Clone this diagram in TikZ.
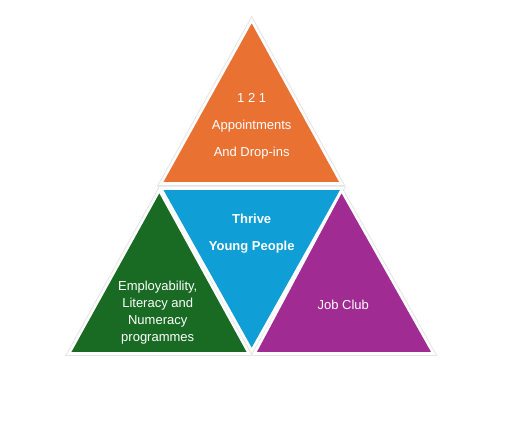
\documentclass[tikz,border=0pt]{standalone}
\usepackage{fontspec}
\setmainfont{Liberation Sans}
\definecolor{torange}{HTML}{E97132}
\definecolor{tblue}{HTML}{0F9ED5}
\definecolor{tgreen}{HTML}{196B24}
\definecolor{tpurple}{HTML}{A02B93}
\begin{document}
\begin{tikzpicture}[x=1pt,y=-1pt,
  halo/.style={draw=black!10,line width=4.5pt,line join=miter},
  edge/.style={draw=white,line width=2.6pt,line join=miter},
  lbl/.style={text=white,font=\fontsize{13}{15}\selectfont,inner sep=0pt,anchor=center},
  blbl/.style={lbl,font=\fontsize{13}{15}\selectfont\bfseries}]
\useasboundingbox (0,0) rectangle (509,426);
\fill[white] (0,0) rectangle (509,426);
% halos
\path[halo] (251.7,20.5) -- (161,183.5) -- (341.5,183.5) -- cycle;
\path[halo] (161,188.5) -- (342.5,188.5) -- (251.7,350.5) -- cycle;
\path[halo] (159.3,190.5) -- (69,353.5) -- (249,353.5) -- cycle;
\path[halo] (341.5,190.5) -- (254.5,353.5) -- (433.5,353.5) -- cycle;
% fills
\path[edge,fill=torange] (251.7,20.5) -- (161,183.5) -- (341.5,183.5) -- cycle;
\path[edge,fill=tblue] (161,188.5) -- (342.5,188.5) -- (251.7,350.5) -- cycle;
\path[edge,fill=tgreen] (159.3,190.5) -- (69,353.5) -- (249,353.5) -- cycle;
\path[edge,fill=tpurple] (341.5,190.5) -- (254.5,353.5) -- (433.5,353.5) -- cycle;
% texts
\node[lbl] (t1) at (251.7,98.3) {1 2 1};
\node[lbl] (t2) at (251.7,126) {Appointments};
\node[lbl] (t3) at (251.7,153.3) {And Drop-ins};
\node[blbl] (b1) at (251.7,219.3) {Thrive};
\node[blbl] (b2) at (251.7,246.7) {Young People};
\node[lbl] (g1) at (157.7,286.7) {Employability,};
\node[lbl] (g2) at (157.7,304) {Literacy and};
\node[lbl] (g3) at (157.7,321.7) {Numeracy};
\node[lbl] (g4) at (157.7,339.3) {programmes};
\node[lbl] (p1) at (343.3,305) {Job Club};
\end{tikzpicture}
\end{document}
